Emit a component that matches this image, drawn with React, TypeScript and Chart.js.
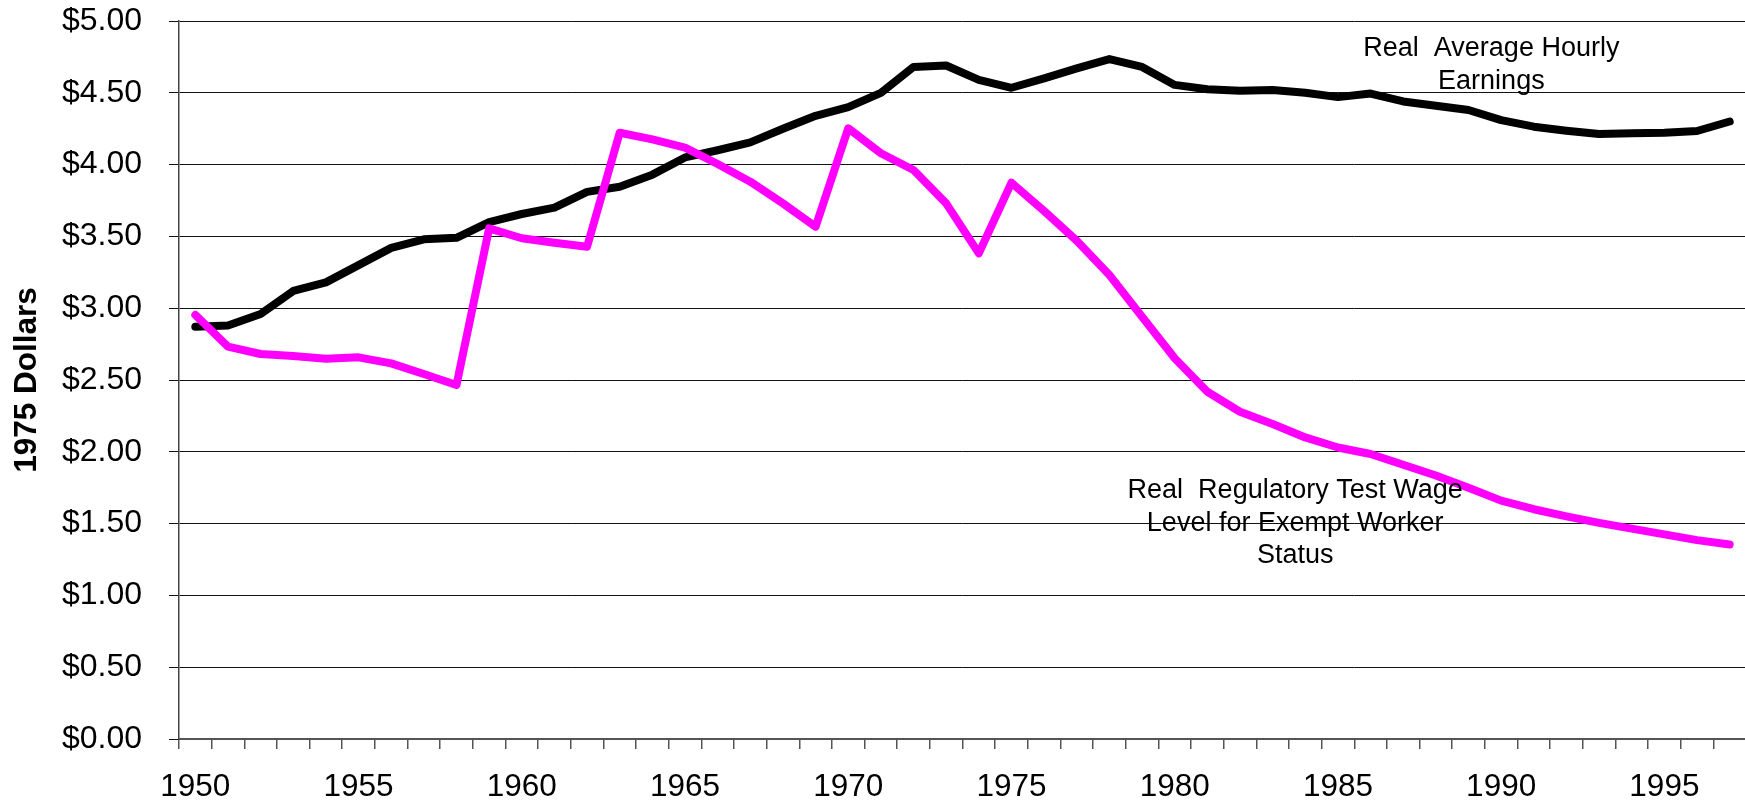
import React, { useEffect, useRef } from "react";
import { Chart, registerables } from "chart.js";

Chart.register(...registerables);

const years = [
  "1950", "1951", "1952", "1953", "1954", "1955", "1956", "1957", "1958", "1959",
  "1960", "1961", "1962", "1963", "1964", "1965", "1966", "1967", "1968", "1969",
  "1970", "1971", "1972", "1973", "1974", "1975", "1976", "1977", "1978", "1979",
  "1980", "1981", "1982", "1983", "1984", "1985", "1986", "1987", "1988", "1989",
  "1990", "1991", "1992", "1993", "1994", "1995", "1996", "1997",
];

const shownYearLabels = ["1950", "1955", "1960", "1965", "1970", "1975", "1980", "1985", "1990", "1995"];

const realAverageHourlyEarnings = [
  2.87, 2.88, 2.96, 3.12, 3.18, 3.3, 3.42, 3.48, 3.49, 3.6,
  3.656, 3.7, 3.81, 3.846, 3.93, 4.05, 4.1, 4.155, 4.25, 4.34,
  4.4, 4.5, 4.68, 4.69, 4.59, 4.535, 4.6, 4.67, 4.735, 4.68,
  4.555, 4.525, 4.515, 4.52, 4.5, 4.47, 4.495, 4.44, 4.41, 4.38,
  4.31, 4.264, 4.236, 4.213, 4.218, 4.222, 4.234, 4.3,
];

const realRegulatoryTestWage = [
  2.953, 2.732, 2.681, 2.667, 2.648, 2.658, 2.616, 2.542, 2.465, 3.556,
  3.487, 3.456, 3.428, 4.222, 4.176, 4.118, 4.004, 3.881, 3.73, 3.568,
  4.253, 4.079, 3.962, 3.73, 3.382, 3.874, 3.677, 3.47, 3.231, 2.941,
  2.651, 2.418, 2.279, 2.194, 2.1, 2.03, 1.985, 1.91, 1.835, 1.75,
  1.66, 1.6, 1.55, 1.505, 1.465, 1.425, 1.385, 1.355,
];

const yTickValues = [0, 0.5, 1, 1.5, 2, 2.5, 3, 3.5, 4, 4.5, 5];

const earningsLabelLines = ["Real  Average Hourly", "Earnings"];
const earningsLabelAnchor = { xIndex: 39.7, y: 4.756 };
const testWageLabelLines = ["Real  Regulatory Test Wage", "Level for Exempt Worker", "Status"];
const testWageLabelAnchor = { xIndex: 33.69, y: 1.678 };

const FONT = '"Liberation Sans", Arial, Helvetica, sans-serif';

const annotationPlugin = {
  id: "textAnnotations",
  afterDatasetsDraw(chart: any) {
    const { ctx, scales } = chart;
    const xs = scales.x;
    const ys = scales.y;
    const items = [
      { lines: earningsLabelLines, anchor: earningsLabelAnchor },
      { lines: testWageLabelLines, anchor: testWageLabelAnchor },
    ];
    ctx.save();
    ctx.fillStyle = "#000";
    ctx.font = `27px ${FONT}`;
    ctx.textAlign = "center";
    ctx.textBaseline = "alphabetic";
    for (const it of items) {
      const px = xs.getPixelForValue(it.anchor.xIndex);
      const py = ys.getPixelForValue(it.anchor.y);
      it.lines.forEach((line, i) => {
        ctx.fillText(line, px, py + i * 32.5);
      });
    }
    ctx.restore();
  },
};

export default function App() {
  const canvasRef = useRef<HTMLCanvasElement | null>(null);

  useEffect(() => {
    const canvas = canvasRef.current;
    if (!canvas) return;
    const chart = new Chart(canvas, {
      type: "line",
      data: {
        labels: years,
        datasets: [
          {
            label: "Real Regulatory Test Wage",
            data: realRegulatoryTestWage,
            borderColor: "#FF00FF",
            backgroundColor: "#FF00FF",
            borderWidth: 8,
            pointRadius: 0,
            tension: 0,
            borderJoinStyle: "round",
            borderCapStyle: "round",
            fill: false,
          },
          {
            label: "Real Average Hourly Earnings",
            data: realAverageHourlyEarnings,
            borderColor: "#000000",
            backgroundColor: "#000000",
            borderWidth: 8,
            pointRadius: 0,
            tension: 0,
            borderJoinStyle: "round",
            borderCapStyle: "round",
            fill: false,
          },
        ],
      },
      options: {
        responsive: false,
        animation: false,
        devicePixelRatio: 1,
        layout: { padding: { left: 0, top: 21, right: 14, bottom: 0 } },
        plugins: {
          legend: { display: false },
          tooltip: { enabled: false },
          title: { display: false },
        },
        scales: {
          x: {
            type: "category",
            offset: true,
            grid: {
              display: true,
              drawOnChartArea: false,
              drawTicks: true,
              tickLength: 10,
              color: "#555",
              lineWidth: 1.5,
              offset: true,
            },
            border: { display: true, color: "#555", width: 2 },
            ticks: {
              autoSkip: false,
              maxRotation: 0,
              minRotation: 0,
              padding: 19,
              color: "#000",
              font: { family: FONT, size: 31.5 },
              callback: (_v: any, i: number) =>
                shownYearLabels.includes(years[i]) ? years[i] : "",
            },
            afterFit: (s: any) => {
              s.height = 63;
              s.paddingLeft = 0;
              s.paddingRight = 0;
            },
          },
          y: {
            min: 0,
            max: 5,
            afterBuildTicks: (s: any) => {
              s.ticks = yTickValues.map((v) => ({ value: v }));
            },
            ticks: {
              padding: 27,
              color: "#000",
              font: { family: FONT, size: 32 },
              callback: (v: any) => "$" + Number(v).toFixed(2),
            },
            grid: {
              color: "#111",
              lineWidth: 1,
              tickLength: 10,
              drawTicks: true,
            },
            border: { display: true, color: "#444", width: 1.5 },
            title: {
              display: true,
              text: "1975 Dollars",
              color: "#000",
              font: { family: FONT, size: 31.5, weight: "bold" },
              padding: { top: 8, bottom: 0 },
            },
            afterFit: (s: any) => {
              s.width = 179;
              s.paddingTop = 0;
              s.paddingBottom = 0;
            },
          },
        },
      },
      plugins: [annotationPlugin],
    } as any);
    return () => chart.destroy();
  }, []);

  return (
    <div
      style={{
        position: "fixed",
        left: 0,
        top: 0,
        width: 1745,
        height: 802,
        overflow: "hidden",
        background: "#fff",
      }}
    >
      <canvas
        ref={canvasRef}
        width={1760}
        height={802}
        style={{ display: "block", width: 1760, height: 802 }}
      />
    </div>
  );
}
